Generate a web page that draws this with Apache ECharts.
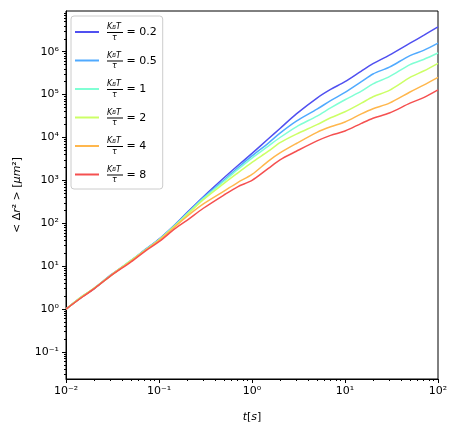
<!DOCTYPE html>
<html>
<head>
<meta charset="utf-8">
<script src="https://cdn.jsdelivr.net/npm/echarts@6/dist/echarts.min.js"></script>
<style>
  html, body { margin: 0; padding: 0; background: #fff; }
  #chart { width: 456px; height: 431px; }
</style>
</head>
<body>
<div id="chart"></div>
<script>
// ---- data ----
const times = [0.01, 0.015, 0.02, 0.03, 0.05, 0.07, 0.1, 0.15, 0.2, 0.3, 0.5, 0.7, 1, 1.5, 2, 3, 5, 7, 10, 15, 20, 30, 50, 70, 100];
const seriesNames = ['0.2', '0.5', '1', '2', '4', '8'];
const msd_02 = [1, 1.95, 3.0, 6.0, 13.5, 23.4, 42.7, 95, 178, 417, 1150, 2190, 4270, 9330, 16200, 35500, 83200, 132000, 200000, 355000, 525000, 832000, 1580000, 2400000, 3800000];
const msd_05 = [1, 2.0, 2.95, 6.17, 13.2, 24.0, 41.7, 93.3, 170, 398, 1023, 1950, 3715, 7413, 12589, 23988, 45709, 72444, 112202, 199526, 301995, 436516, 812831, 1071519, 1584893];
const msd_1  = [1, 1.95, 3.09, 6.03, 13.8, 23.4, 41.7, 91.2, 166, 380, 955, 1778, 3311, 6310, 10000, 17783, 31623, 48978, 75858, 120226, 177828, 263027, 501187, 660693, 933254];
const msd_2  = [1, 2.0, 3.02, 5.89, 13.5, 22.9, 40.7, 89.1, 158, 355, 851, 1479, 2630, 4786, 7586, 12023, 19953, 28840, 39811, 63096, 89125, 125893, 251189, 354813, 537032];
const msd_4  = [1, 1.95, 3.02, 6.03, 13.2, 22.9, 39.8, 85.1, 145, 282, 562, 891, 1380, 2818, 4365, 7244, 13183, 17783, 22909, 35481, 46774, 63096, 114815, 165959, 251189];
const msd_8  = [1, 1.91, 2.95, 5.89, 12.6, 21.9, 37.2, 75.9, 117, 224, 457, 708, 1000, 1905, 3020, 4786, 8318, 11220, 14125, 21380, 28184, 37154, 63096, 85114, 128825];
const allMsd = [msd_02, msd_05, msd_1, msd_2, msd_4, msd_8];
const colors = ['#5050f0', '#50aaff', '#80ffd4', '#ccff66', '#ffb74d', '#f55050'];

const xMajorTicks = [0.01, 0.1, 1, 10, 100];
const xTickLabels = ['10\u207B\u00B2', '10\u207B\u00B9', '10\u2070', '10\u00B9', '10\u00B2'];
const yMajorTicks = [0.1, 1, 10, 100, 1000, 10000, 100000, 1000000];
const yTickLabels = ['10\u207B\u00B9', '10\u2070', '10\u00B9', '10\u00B2', '10\u00B3', '10\u2074', '10\u2075', '10\u2076'];

const xMin = 0.01, xMax = 100;
const yMin = 0.0234, yMax = 8.9e6;

function minorTicks(lo, hi) {
  const out = [];
  for (let e = -3; e <= 7; e++) {
    for (let k = 2; k <= 9; k++) {
      const v = k * Math.pow(10, e);
      if (v > lo && v < hi) out.push(v);
    }
  }
  return out;
}

const FONT = 'DejaVu Sans';
const chart = echarts.init(document.getElementById('chart'), null, { renderer: 'canvas' });

const labelFmt = (ticks, labels) => (v) => {
  for (let i = 0; i < ticks.length; i++) {
    if (Math.abs(Math.log10(v) - Math.log10(ticks[i])) < 1e-6) return labels[i];
  }
  return '';
};

const series = allMsd.map((arr, i) => ({
  name: seriesNames[i],
  type: 'line',
  xAxisIndex: 0,
  yAxisIndex: 0,
  showSymbol: false,
  symbol: 'none',
  smooth: 0.3,
  animation: false,
  color: colors[i],
  lineStyle: { width: 1.5, color: colors[i] },
  data: times.map((t, j) => [t, arr[j]])
}));

const option = {
  animation: false,
  backgroundColor: '#fff',
  textStyle: { fontFamily: FONT },
  grid: { left: 66, right: 18, top: 11, bottom: 52, show: true, borderColor: '#000', borderWidth: 1, backgroundColor: 'transparent' },
  legend: {
    orient: 'vertical',
    left: 71, top: 16,
    padding: [7, 6, 5, 4],
    itemGap: 10,
    itemWidth: 24,
    itemHeight: 2,
    icon: 'rect',
    backgroundColor: '#fff',
    borderColor: '#cccccc',
    borderWidth: 1,
    borderRadius: 3,
    data: seriesNames,
    formatter: (name) => '{sp| }{n|K}{sb|B}{n|T}\n{sp| }{bar| }{eq| = ' + name + '}\n{sp| }{d|\u03C4}',
    textStyle: {
      fontFamily: FONT,
      color: '#000',
      rich: {
        sp: { width: 3, fontSize: 1, lineHeight: 1 },
        n: { fontSize: 8, fontStyle: 'italic', fontFamily: FONT, lineHeight: 7, color: '#000' },
        sb: { fontSize: 5.5, fontStyle: 'italic', fontFamily: FONT, lineHeight: 7, verticalAlign: 'bottom', color: '#000' },
        bar: { width: 16, height: 1, backgroundColor: '#000', fontSize: 1, lineHeight: 4, verticalAlign: 'middle' },
        eq: { fontSize: 11, fontFamily: FONT, lineHeight: 4, color: '#000', verticalAlign: 'middle' },
        d: { fontSize: 8, fontStyle: 'italic', fontFamily: FONT, lineHeight: 6, color: '#000', padding: [0, 0, 0, 5] }
      }
    }
  },
  xAxis: [
    {
      type: 'log', logBase: 10, min: xMin, max: xMax,
      name: '{i|t}[{i|s}]', nameLocation: 'middle', nameGap: 33,
      nameTextStyle: { fontFamily: FONT, fontSize: 11, color: '#000', rich: { i: { fontStyle: 'italic', fontFamily: FONT, fontSize: 11, color: '#000' } } },
      axisLine: { show: true, onZero: false, lineStyle: { color: '#000', width: 1 } },
      axisTick: { show: true, inside: false, length: 4, customValues: xMajorTicks, lineStyle: { color: '#000' } },
      axisLabel: { show: true, margin: 7, fontSize: 11, fontFamily: FONT, color: '#000', customValues: xMajorTicks, formatter: labelFmt(xMajorTicks, xTickLabels) },
      splitLine: { show: false }
    },
    {
      type: 'log', logBase: 10, min: xMin, max: xMax, position: 'bottom',
      axisLine: { show: false },
      axisTick: { show: true, inside: false, length: 2, customValues: minorTicks(xMin, xMax), lineStyle: { color: '#000' } },
      axisLabel: { show: false },
      splitLine: { show: false }
    }
  ],
  yAxis: [
    {
      type: 'log', logBase: 10, min: yMin, max: yMax,
      name: '< \u0394{i|r}\u00B2 > [{i|\u03BCm}\u00B2]', nameLocation: 'middle', nameGap: 43, nameRotate: 90,
      nameTextStyle: { fontFamily: FONT, fontSize: 11, color: '#000', rich: { i: { fontStyle: 'italic', fontFamily: FONT, fontSize: 11, color: '#000' } } },
      axisLine: { show: true, onZero: false, lineStyle: { color: '#000', width: 1 } },
      axisTick: { show: true, inside: false, length: 4, customValues: yMajorTicks, lineStyle: { color: '#000' } },
      axisLabel: { show: true, margin: 7, fontSize: 11, fontFamily: FONT, color: '#000', customValues: yMajorTicks, formatter: labelFmt(yMajorTicks, yTickLabels) },
      splitLine: { show: false }
    },
    {
      type: 'log', logBase: 10, min: yMin, max: yMax, position: 'left',
      axisLine: { show: false },
      axisTick: { show: true, inside: false, length: 2, customValues: minorTicks(yMin, yMax), lineStyle: { color: '#000' } },
      axisLabel: { show: false },
      splitLine: { show: false }
    }
  ],
  series: series
};

chart.setOption(option);
</script>
</body>
</html>
